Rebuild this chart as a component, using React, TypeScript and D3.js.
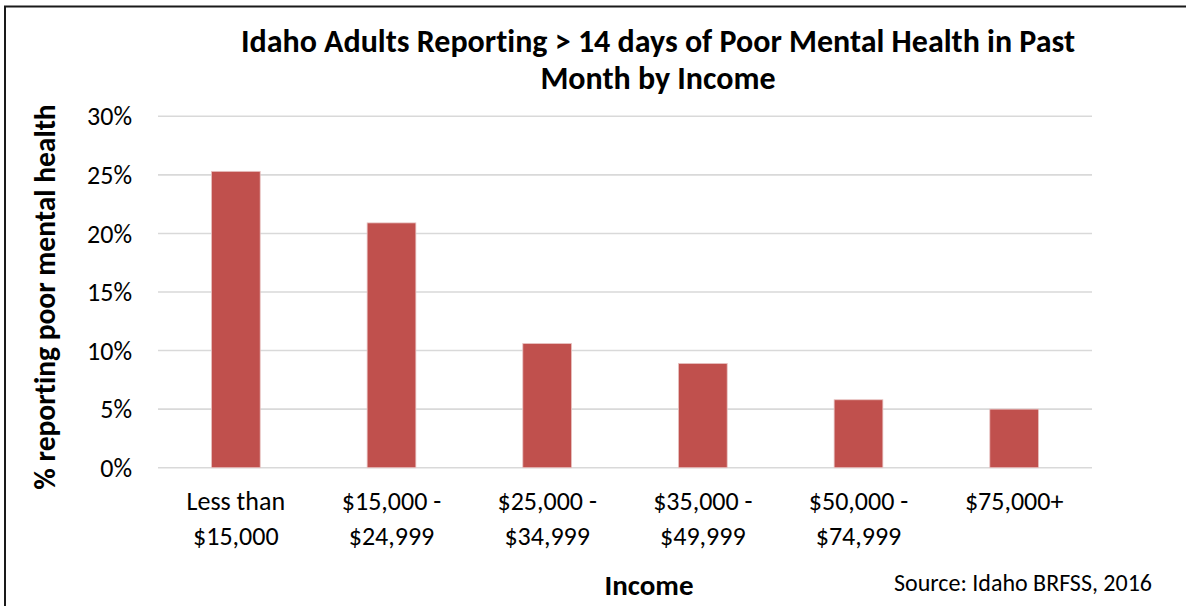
import React from "react";
import * as d3 from "d3";

const categories: string[][] = [
  ["Less than", "$15,000"],
  ["$15,000 -", "$24,999"],
  ["$25,000 -", "$34,999"],
  ["$35,000 -", "$49,999"],
  ["$50,000 -", "$74,999"],
  ["$75,000+"],
];
const values: number[] = [25.3, 20.9, 10.6, 8.9, 5.8, 5.0];
const yTicks: number[] = [0, 5, 10, 15, 20, 25, 30];
const titleLines: string[] = [
  "Idaho Adults Reporting > 14 days of Poor Mental Health in Past",
  "Month by Income",
];
const yTitle = "% reporting poor mental health";
const xTitle = "Income";
const source = "Source: Idaho BRFSS, 2016";

const W = 1186;
const H = 606;
const FONT = "Carlito, Lato, sans-serif";

export default function App() {
  const left = 158;
  const right = 1092;
  const top = 116.3;
  const bottom = 467.7;

  const x = d3
    .scaleBand<number>()
    .domain(categories.map((_, i) => i))
    .range([left, right])
    .paddingInner(0.687)
    .paddingOuter(0.3435);
  const y = d3.scaleLinear().domain([0, 30]).range([bottom, top]);

  return (
    <svg
      width={W}
      height={H}
      style={{
        position: "fixed",
        left: 0,
        top: 0,
        background: "#fff",
        fontVariantLigatures: "none",
      }}
      fontFamily={FONT}
    >
      <rect x={0} y={0} width={W} height={H} fill="#fff" />
      <path d={`M5,${H + 2} V6.5 H${W + 2}`} fill="none" stroke="#1a1a1a" strokeWidth={2} />

      {titleLines.map((t, i) => (
        <text
          key={i}
          x={658}
          y={52 + i * 37}
          textAnchor="middle"
          fontSize={32}
          fontWeight="bold"
          fill="#000"
        >
          {t}
        </text>
      ))}

      {yTicks.map((t) => (
        <g key={t}>
          <line x1={left} x2={right} y1={y(t)} y2={y(t)} stroke="#d9d9d9" strokeWidth={1.6} />
          <text
            x={132}
            y={y(t)}
            dy="0.35em"
            textAnchor="end"
            fontSize={26}
            fill="#000"
          >
            {`${t}%`}
          </text>
        </g>
      ))}

      {values.map((v, i) => (
        <rect
          key={i}
          x={x(i)}
          y={y(v)}
          width={x.bandwidth()}
          height={y(0) - y(v)}
          fill="#c0504d"
          stroke="#e8c4c3"
          strokeWidth={0.8}
        />
      ))}

      {categories.map((lines, i) =>
        lines.map((l, j) => (
          <text
            key={`${i}-${j}`}
            x={(x(i) as number) + x.bandwidth() / 2}
            y={510 + j * 35}
            textAnchor="middle"
            fontSize={26}
            fill="#000"
          >
            {l}
          </text>
        ))
      )}

      <text
        transform={`translate(55,297) rotate(-90)`}
        textAnchor="middle"
        fontSize={29.5}
        fontWeight="bold"
        fill="#000"
      >
        {yTitle}
      </text>

      <text x={649} y={595} textAnchor="middle" fontSize={29} fontWeight="bold" fill="#000">
        {xTitle}
      </text>
      <text x={1152} y={591} textAnchor="end" fontSize={24} fill="#000">
        {source}
      </text>
    </svg>
  );
}
